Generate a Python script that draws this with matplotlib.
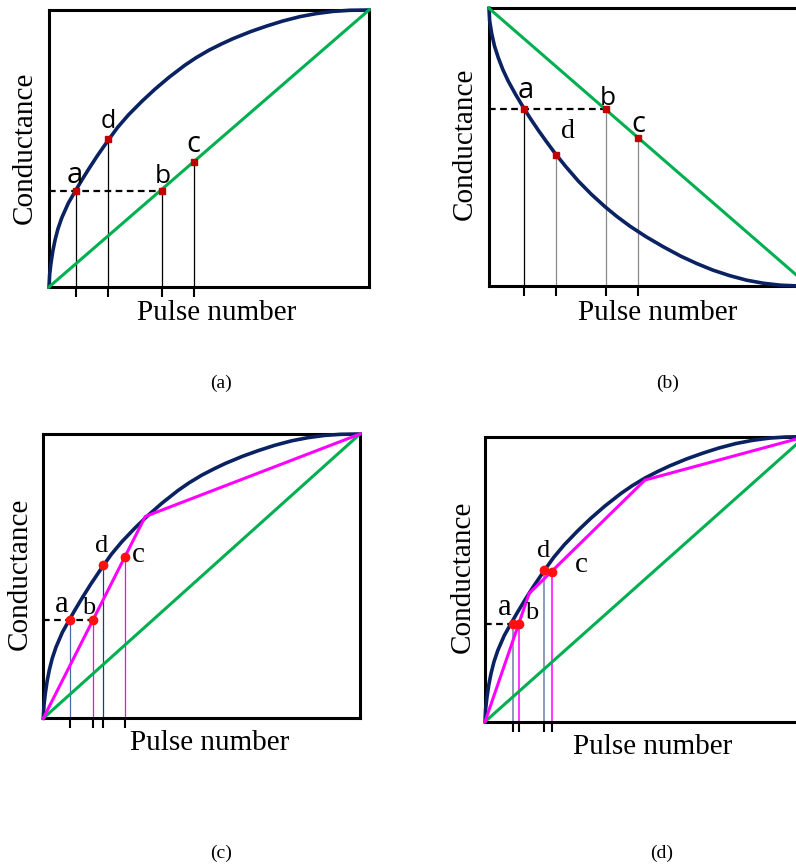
import matplotlib
matplotlib.use('Agg')
import matplotlib.pyplot as plt

W, H = 796, 864
DPI = 100

NAVY = '#0b2262'
GREEN = '#00b050'
MAGENTA = '#ff00ff'
DARK_RED = '#c00000'
RED = '#ff1010'

# Concave (potentiation) conductance curve, shared by panels (a), (c), (d)
POT_X = [0, 0.002, 0.006, 0.012, 0.019, 0.028, 0.040, 0.060, 0.083, 0.100,
         0.123, 0.150, 0.185, 0.215, 0.248, 0.290, 0.331, 0.375, 0.425,
         0.460, 0.500, 0.540, 0.576, 0.630, 0.680, 0.730, 0.784, 0.835,
         0.888, 0.940, 1.0]
POT_Y = [0, 0.045, 0.085, 0.130, 0.170, 0.210, 0.250, 0.302, 0.348, 0.381,
         0.424, 0.472, 0.530, 0.577, 0.621, 0.670, 0.714, 0.757, 0.801,
         0.828, 0.855, 0.878, 0.897, 0.922, 0.942, 0.960, 0.976, 0.987,
         0.995, 0.999, 1.0]

# Convex (depression) conductance curve, panel (b)
DEP_X = [0, 0.002, 0.0083, 0.017, 0.029, 0.043, 0.060, 0.083, 0.110, 0.130,
         0.154, 0.180, 0.209, 0.240, 0.279, 0.320, 0.363, 0.400, 0.441,
         0.490, 0.545, 0.600, 0.649, 0.700, 0.753, 0.805, 0.857, 0.910,
         0.959, 1.0]
DEP_Y = [1, 0.955, 0.910, 0.865, 0.822, 0.780, 0.738, 0.690, 0.638, 0.602,
         0.561, 0.519, 0.474, 0.430, 0.378, 0.330, 0.285, 0.250, 0.215,
         0.178, 0.141, 0.107, 0.081, 0.057, 0.037, 0.021, 0.010, 0.003,
         0.0005, 0.0]

# Ideal linear response
LIN_UP_X, LIN_UP_Y = [0, 1], [0, 1]
LIN_DOWN_X, LIN_DOWN_Y = [0, 1], [1, 0]

# Piecewise-linear approximations
PW_C_X = [0, 0.322, 1.0]
PW_C_Y = [0, 0.710, 1.0]
PW_D_X = [0, 0.138, 0.5, 1.0]
PW_D_Y = [0, 0.450, 0.848, 1.0]

POINT_LABELS = ['a', 'b', 'c', 'd']
PTS_A_X = [0.083, 0.352, 0.452, 0.185]
PTS_A_Y = [0.348, 0.348, 0.452, 0.534]
PTS_B_X = [0.110, 0.366, 0.467, 0.209]
PTS_B_Y = [0.636, 0.636, 0.533, 0.472]
PTS_C_X = [0.085, 0.157, 0.257, 0.188]
PTS_C_Y = [0.346, 0.346, 0.566, 0.539]
PTS_D_X = [0.0865, 0.1055, 0.208, 0.184]
PTS_D_Y = [0.344, 0.344, 0.527, 0.532]

SERIF = 'Liberation Serif'
SANS = 'Open Sans'


def add_box(left, top, bottom, width=320):
    ax = fig.add_axes([left / W, 1 - bottom / H, width / W, (bottom - top) / H])
    ax.set_xlim(0, 1)
    ax.set_ylim(0, 1)
    for sp in ax.spines.values():
        sp.set_linewidth(2.2)
    ax.set_yticks([])
    ax.tick_params(axis='x', direction='out', length=7, width=1.5,
                   labelbottom=False)
    return ax


def fig_text(px, py, s, size, **kw):
    fig.text(px / W, 1 - py / H, s, fontsize=size, family=SERIF,
             ha='center', va='center', **kw)


def draw_points(ax, xs, ys, drop_colors, drop_widths, dot_color, marker, msize,
                offsets, fonts, sizes, dash_to):
    ax.set_xticks(sorted(xs))
    for x, y, c, lw in zip(xs, ys, drop_colors, drop_widths):
        ax.plot([x, x], [0, y], color=c, lw=lw, zorder=2, clip_on=False)
    ax.plot([0, dash_to], [ys[0], ys[0]], color='black', lw=1.6,
            ls=(0, (3, 2)), zorder=2)
    ax.plot(xs, ys, ls='none', marker=marker, ms=msize, color=dot_color,
            mec=dot_color, zorder=5)
    for lab, x, y, off, fam, sz in zip(POINT_LABELS, xs, ys, offsets, fonts, sizes):
        ax.annotate(lab, (x, y), xytext=off, textcoords='offset pixels',
                    ha='center', va='baseline', fontsize=sz, family=fam,
                    zorder=6)


fig = plt.figure(figsize=(W / DPI, H / DPI), dpi=DPI)

# ---- (a) nonlinear potentiation vs linear ----
ax = add_box(49, 10, 287)
ax.plot(POT_X, POT_Y, color=NAVY, lw=2.6, zorder=3, clip_on=False,
        solid_joinstyle='round')
ax.plot(LIN_UP_X, LIN_UP_Y, color=GREEN, lw=2.2, zorder=3, clip_on=False)
draw_points(ax, PTS_A_X, PTS_A_Y, ['black'] * 4, [0.9] * 4, DARK_RED, 's', 5,
            [(-1, 8), (1, 8), (0, 10), (0, 11)], [SANS] * 4,
            [21, 19, 21, 18], PTS_A_X[1])
fig_text(25, 148, 'Conductance', 21, rotation=90)
fig_text(217, 313, 'Pulse number', 21)
fig_text(221, 383, '(a)', 14)

# ---- (b) nonlinear depression vs linear ----
ax = add_box(489, 8.3, 286)
ax.plot(DEP_X, DEP_Y, color=NAVY, lw=2.6, zorder=3, clip_on=False,
        solid_joinstyle='round')
ax.plot(LIN_DOWN_X, LIN_DOWN_Y, color=GREEN, lw=2.2, zorder=3, clip_on=False)
draw_points(ax, PTS_B_X, PTS_B_Y, ['black', '#888888', '#888888', '#888888'],
            [0.9] * 4, DARK_RED, 's', 5,
            [(2, 11), (2, 4), (0, 6), (12, 17)], [SANS, SANS, SANS, SERIF],
            [21, 19, 21, 20], PTS_B_X[1])
fig_text(465, 144, 'Conductance', 21, rotation=90)
fig_text(658, 313, 'Pulse number', 21)
fig_text(668, 383, '(b)', 14)

# ---- (c) two-segment piecewise-linear fit ----
ax = add_box(43.3, 434, 718.3, width=316.7)
ax.plot(POT_X, POT_Y, color=NAVY, lw=2.6, zorder=3, clip_on=False,
        solid_joinstyle='round')
ax.plot(LIN_UP_X, LIN_UP_Y, color=GREEN, lw=2.2, zorder=3, clip_on=False)
ax.plot(PW_C_X, PW_C_Y, color=MAGENTA, lw=2.2, zorder=4, clip_on=False)
draw_points(ax, PTS_C_X, PTS_C_Y, ['#4a68a8', MAGENTA, MAGENTA, '#1f3a85'],
            [0.9] * 4, RED, 'o', 6,
            [(-9, 8), (-4, 6), (14, -5), (-1, 13)], [SERIF] * 4,
            [22, 19, 21, 19], PTS_C_X[1])
fig_text(20, 574, 'Conductance', 21, rotation=90)
fig_text(210, 743, 'Pulse number', 21)
fig_text(221, 853, '(c)', 14)

# ---- (d) three-segment piecewise-linear fit ----
ax = add_box(485, 436.7, 721.7)
ax.plot(POT_X, POT_Y, color=NAVY, lw=2.6, zorder=3, clip_on=False,
        solid_joinstyle='round')
ax.plot(LIN_UP_X, LIN_UP_Y, color=GREEN, lw=2.2, zorder=3, clip_on=False)
ax.plot(PW_D_X, PW_D_Y, color=MAGENTA, lw=2.2, zorder=4, clip_on=False)
draw_points(ax, PTS_D_X, PTS_D_Y, ['#6f7fa3', MAGENTA, MAGENTA, '#6f7fa3'],
            [1.1] * 4, RED, 'o', 6,
            [(-8, 9), (13, 5), (30, 0), (0, 13)], [SERIF] * 4,
            [22, 19, 21, 19], PTS_D_X[0])
fig_text(463, 577, 'Conductance', 21, rotation=90)
fig_text(653, 747, 'Pulse number', 21)
fig_text(662, 853, '(d)', 14)

fig.savefig('out.png', dpi=DPI)
